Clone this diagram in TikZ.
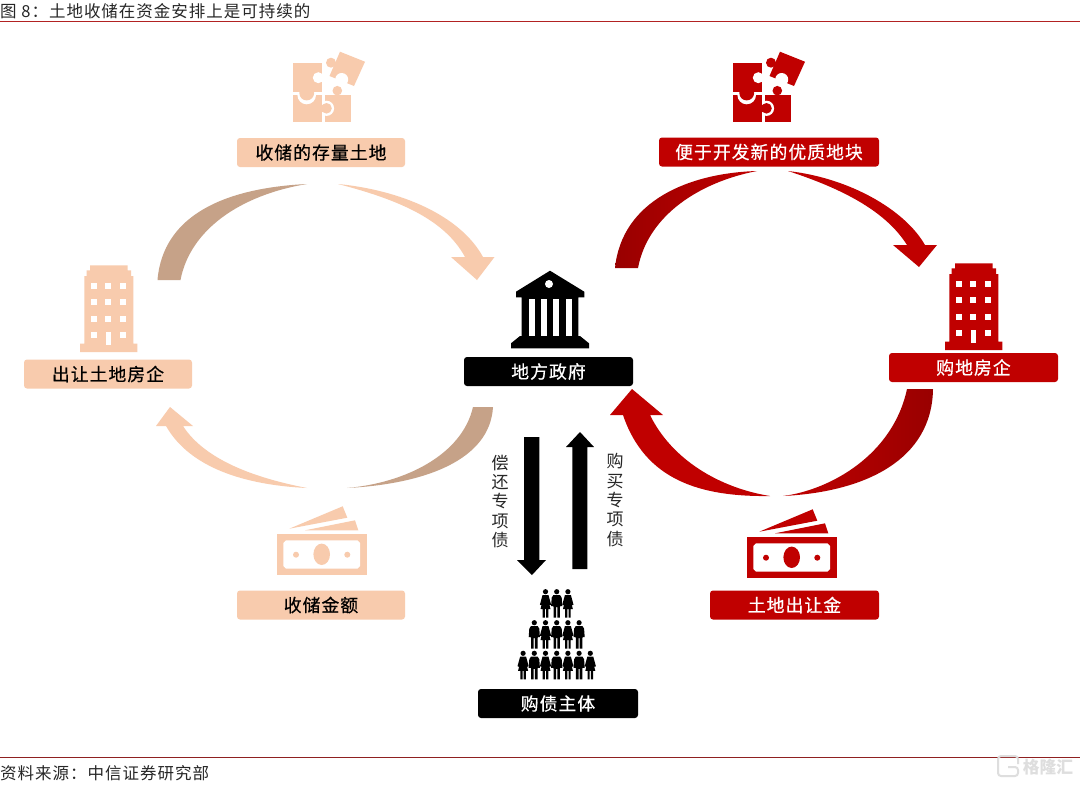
\documentclass[tikz,border=0pt]{standalone}
\usepackage{fontspec}
\setmainfont{Noto Sans CJK SC}
\newfontfamily\titlefont[LetterSpace=6]{Noto Sans CJK SC}
\definecolor{peach}{HTML}{F8CBAD}
\definecolor{tan}{HTML}{C6A288}
\definecolor{hred}{HTML}{C00000}
\definecolor{dred}{HTML}{990000}
\definecolor{rulered}{HTML}{B22222}
\definecolor{footred}{HTML}{8F2020}
\definecolor{wm}{HTML}{DEDEDE}
\newcommand{\fs}[1]{\fontsize{#1}{#1}\selectfont}
\tikzset{
  lab/.style={rectangle,rounded corners=3pt,minimum width=#1,minimum height=29pt,inner sep=0pt,font=\fs{17.8}\addfontfeature{LetterSpace=6,FakeBold=0.6}},
  labpeach/.style={lab=#1,fill=peach,text=black},
  labred/.style={lab=#1,fill=hred,text=white},
  labblack/.style={lab=#1,fill=black,text=white},
  vtext/.style={inner sep=0pt,align=center,text=black!85,font=\fontsize{17}{19.4}\selectfont},
  plain/.style={inner sep=0pt,anchor=base west,text=black!85},
}
% puzzle icon: #1 colour, drawn at light icon position
\newcommand{\puzzleicon}[1]{%
  % bottom right piece
  \fill[#1] (325,95) rectangle (351.3,122.3);
  \fill[white] (326.5,108.3) circle (7.6pt);
  % bottom left piece
  \fill[#1] (293.3,95) rectangle (322.3,122.3);
  \fill[#1] (326.5,108.3) circle (5.3pt);
  \fill[#1] (320,105) rectangle (324,111.6);
  \fill[white] (306.7,95) circle (9.3pt);
  % top left piece
  \fill[#1] (293.3,63.3) rectangle (322.3,92.3);
  \fill[#1] (306.7,93) circle (7.4pt);
  \fill[white] (318.3,77.7) circle (5.5pt);
  \fill[#1] (331,62.7) circle (5pt);
  % top right piece
  \fill[#1] (340,51.7) -- (365,61.7) -- (354,86) -- (329.5,76) -- cycle;
  \fill[white] (341.7,79.5) circle (6.5pt);
  \fill[#1] (337.3,90.7) circle (4.8pt);
}
% building icon, drawn at red position
\newcommand{\buildingicon}[1]{%
  \fill[#1] (955,263.3) -- (992.7,263.3) -- (992.7,268.3) -- (996,268.3) -- (996,274) -- (998.3,274) -- (998.3,341.7)
     -- (1002.3,341.7) -- (1002.3,350) -- (945,350) -- (945,341.7) -- (949.3,341.7) -- (949.3,274)
     -- (951.7,274) -- (951.7,268.3) -- (955,268.3) -- cycle;
  \foreach \cx in {959.3,973.3,987.7}{
    \foreach \cy in {284,300,316.7}{
      \fill[white] (\cx-3,\cy-3) rectangle (\cx+3,\cy+3);
    }
  }
  \fill[white] (956.3,330.3) rectangle (962.3,336.3);
  \fill[white] (984.7,330.3) rectangle (990.7,336.3);
  \fill[white] (970.8,330) rectangle (975.8,342.7);
}
% money icon, drawn at red position
\newcommand{\moneyicon}[1]{%
  \fill[#1] (759.3,531.7) -- (812.7,509.3) -- (817.3,520.7) -- cycle;
  \fill[#1] (775,533.3) -- (825,523.3) -- (828.3,533.3) -- cycle;
  \fill[#1] (746.7,536.7) rectangle (836.7,578.3);
  \fill[white] (756,543.3) -- (827.5,543.3) -- (830,546) -- (830,569) -- (827.5,571.7) -- (756,571.7) -- (753.3,569) -- (753.3,546) -- cycle;
  \fill[#1] (791.7,557.3) ellipse (8.3pt and 10.7pt);
  \fill[#1] (766,557.7) circle (3pt);
  \fill[#1] (817.3,557.7) circle (3pt);
}
% person figures; head centre at (#1,#2)
\newcommand{\manfig}[2]{%
  \begin{scope}[shift={(#1,#2)}]
    \fill (0,0) circle (2.6pt);
    \fill (-5,6) -- (-3.4,3.4) -- (3.4,3.4) -- (5,6) -- (5.6,14.5) -- (3.8,14.5) -- (3.2,15) -- (3.2,26) -- (.6,26) -- (.6,15.5) -- (-.6,15.5) -- (-.6,26) -- (-3.2,26) -- (-3.2,15) -- (-3.8,14.5) -- (-5.6,14.5) -- cycle;
  \end{scope}}
\newcommand{\womanfig}[2]{%
  \begin{scope}[shift={(#1,#2)}]
    \fill (0,0) circle (2.6pt);
    \fill (-3,3.4) -- (3,3.4) -- (5.6,13) -- (4,13.5) -- (5,17.5) -- (2.8,17.5) -- (2.8,26) -- (.6,26) -- (.6,17.5) -- (-.6,17.5) -- (-.6,26) -- (-2.8,26) -- (-2.8,17.5) -- (-5,17.5) -- (-4,13.5) -- (-5.6,13) -- cycle;
  \end{scope}}
\begin{document}
\begin{tikzpicture}[x=1pt,y=-1pt]
\useasboundingbox (0,0) rectangle (1080,785);
\fill[white] (0,0) rectangle (1080,785);

% header / footer
\node[plain,font=\fs{16.5}\titlefont] (title) at (0,17) {图 8：土地收储在资金安排上是可持续的};
\draw[rulered,line width=1pt] (0,21.5) -- (1080,21.5);
\draw[footred,line width=1pt] (0,757.5) -- (1080,757.5);
\node[plain,font=\fs{16.5}\titlefont] (source) at (0,779) {资料来源：中信证券研究部};

% watermark
\draw[wm,line width=2pt,rounded corners=3pt] (1018,764) -- (1018,756) -- (998,756) -- (998,776) -- (1018,776) -- (1018,767) -- (1008,767);
\node[inner sep=0pt,text=wm,font=\fs{16.7}\bfseries] (wmtext) at (1048,767) {格隆汇};

% left cycle (peach)
\fill[tan] (157.5,280) .. controls (163,215) and (225,188) .. (307,184)
  .. controls (240,195) and (190,230) .. (180.5,280) -- cycle;
\fill[peach] (338,184) .. controls (400,190) and (460,215) .. (483,257)
  -- (494.5,257) -- (477,280) -- (451,257) -- (465,257)
  .. controls (445,220) and (400,200) .. (338,184) -- cycle;
\fill[tan] (493,407) .. controls (490,460) and (425,484) .. (347,488)
  .. controls (405,483) and (462,455) .. (473,407) -- cycle;
\fill[peach] (307,488) .. controls (245,485) and (190,468) .. (166,426)
  -- (156,426) -- (170,407) -- (193,426) -- (183,426)
  .. controls (205,460) and (255,478) .. (307,488) -- cycle;

% right cycle (red)
\shade[left color=dred,middle color=dred,right color=hred] (615,268) .. controls (622,200) and (690,173) .. (757,171)
  .. controls (700,182) and (648,215) .. (638,268) -- cycle;
\fill[hred] (788,171) .. controls (850,178) and (905,210) .. (925,245)
  -- (937,245) -- (919,267) -- (893,245) -- (907,245)
  .. controls (885,210) and (840,188) .. (788,171) -- cycle;
\shade[left color=hred,middle color=dred,right color=dred] (933,389) .. controls (932,460) and (865,492) .. (783,496)
  .. controls (830,490) and (893,455) .. (907,389) -- cycle;
\fill[hred] (770,496) .. controls (700,497) and (645,480) .. (623,415)
  -- (610,415) -- (632,389) -- (663,415) -- (650,415)
  .. controls (672,460) and (720,488) .. (770,496) -- cycle;

% block arrows
\fill[black] (524,437) -- (539.3,437) -- (539.3,560) -- (546,560) -- (532,575) -- (517,560) -- (524,560) -- cycle;
\fill[black] (572.3,569) -- (587.3,569) -- (587.3,447) -- (594,447) -- (580,432) -- (566,447) -- (572.3,447) -- cycle;
\node[vtext] (repay) at (500,501.5) {偿\\还\\专\\项\\债};
\node[vtext] (buy) at (615,500) {购\\买\\专\\项\\债};

% icons
\puzzleicon{peach}
\begin{scope}[shift={(440,0)}]\puzzleicon{hred}\end{scope}
\buildingicon{hred}
\begin{scope}[shift={(-865,2)}]\buildingicon{peach}\end{scope}
\moneyicon{hred}
\begin{scope}[shift={(-470,-3)}]\moneyicon{peach}\end{scope}

% bank
\fill[black] (550,270.7) -- (584.3,291.7) -- (584.3,297.3) -- (578.3,297.3) -- (578.3,336) -- (580,336) -- (589,343.3) -- (589,348.3) -- (511,348.3) -- (511,343.3) -- (520,336) -- (521.7,336) -- (521.7,297.3) -- (516,297.3) -- (516,291.7) -- cycle;
\fill[white] (549,284) circle (4pt);
\foreach \sx in {529,541,553.3,565.7}{\fill[white] (\sx,299) rectangle (\sx+6,336);}

% people
\foreach \px/\kind in {545.5/\womanfig,556.7/\manfig,567.9/\womanfig}{\kind{\px}{591.7}}
\foreach \px/\kind in {534.3/\manfig,545.5/\womanfig,556.7/\manfig,567.9/\womanfig,579.1/\manfig}{\kind{\px}{622.7}}
\foreach \px/\kind in {523.1/\womanfig,534.3/\manfig,545.5/\womanfig,556.7/\manfig,567.9/\womanfig,579.1/\manfig,590.3/\womanfig}{\kind{\px}{653.3}}

% labels
\node[labpeach=168pt] (stock) at (321,152.5) {收储的存量土地};
\node[labred=220pt] (plot) at (769,152) {便于开发新的优质地块};
\node[labpeach=168pt] (seller) at (108,374) {出让土地房企};
\node[labblack=169pt] (gov) at (548.5,371.5) {地方政府};
\node[labred=169pt] (buyer) at (973.5,367.5) {购地房企};
\node[labpeach=168pt] (fund) at (321,605) {收储金额};
\node[labred=169pt] (fee) at (794.5,605) {土地出让金};
\node[labblack=160pt] (holder) at (558,703.5) {购债主体};
\end{tikzpicture}
\end{document}
